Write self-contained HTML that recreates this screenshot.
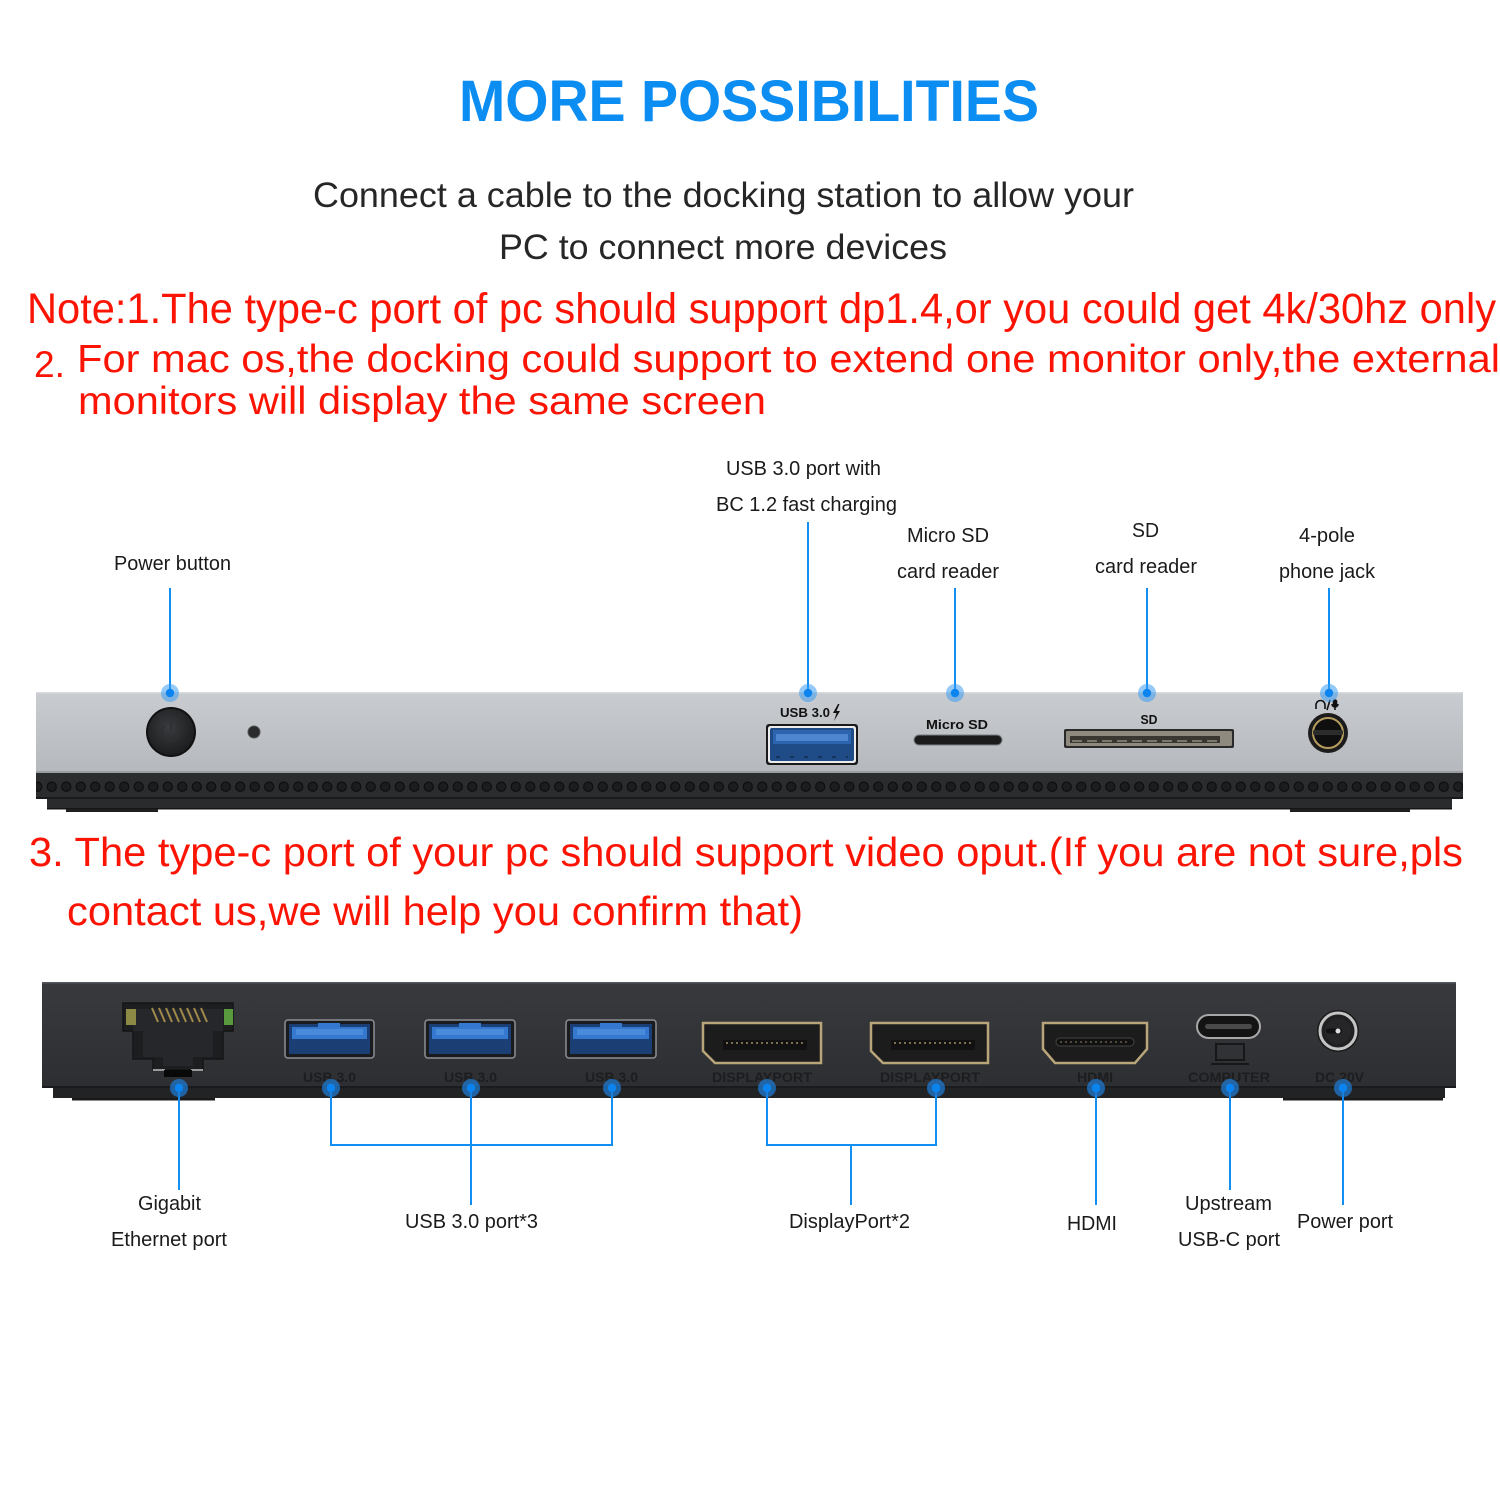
<!DOCTYPE html>
<html><head><meta charset="utf-8"><style>
html,body{margin:0;padding:0;background:#fff;}
svg{display:block;}
text{font-family:"Liberation Sans",Arial,sans-serif;}
</style></head><body>
<svg width="1500" height="1500" viewBox="0 0 1500 1500" xmlns="http://www.w3.org/2000/svg">
<defs>
<linearGradient id="gfront" x1="0" y1="0" x2="0" y2="1">
<stop offset="0" stop-color="#c9ccd0"/><stop offset="0.5" stop-color="#bfc2c6"/><stop offset="1" stop-color="#b5b8bc"/>
</linearGradient>
<linearGradient id="gback" x1="0" y1="0" x2="0" y2="1">
<stop offset="0" stop-color="#383a3e"/><stop offset="1" stop-color="#2c2e31"/>
</linearGradient>
<radialGradient id="gbtn" cx="0.45" cy="0.4" r="0.6">
<stop offset="0" stop-color="#3a3b3e"/><stop offset="1" stop-color="#1c1d1f"/>
</radialGradient>
<pattern id="holes" x="44.5" y="779" width="14.5" height="16" patternUnits="userSpaceOnUse">
<circle cx="7.25" cy="7.7" r="4.6" fill="#1c1d1f" stroke="#0e0e0f" stroke-width="1.3"/>
</pattern>
</defs>

<!-- Header text -->
<text x="459" y="121" font-size="58" font-weight="bold" fill="#0b8df2" textLength="580" lengthAdjust="spacingAndGlyphs">MORE POSSIBILITIES</text>
<text x="313" y="207" font-size="35" fill="#262626" textLength="821" lengthAdjust="spacingAndGlyphs">Connect a cable to the docking station to allow your</text>
<text x="499" y="259" font-size="35" fill="#262626" textLength="448" lengthAdjust="spacingAndGlyphs">PC to connect more devices</text>

<text x="27" y="323" font-size="43" fill="#fb1404" textLength="1469" lengthAdjust="spacingAndGlyphs">Note:1.The type-c port of pc should support dp1.4,or you could get 4k/30hz only</text>
<text x="34" y="377" font-size="37" fill="#fb1404" textLength="31" lengthAdjust="spacingAndGlyphs">2.</text>
<text x="77" y="372" font-size="39" fill="#fb1404" textLength="1423" lengthAdjust="spacingAndGlyphs">For mac os,the docking could support to extend one monitor only,the external</text>
<text x="78" y="414" font-size="39" fill="#fb1404" textLength="688" lengthAdjust="spacingAndGlyphs">monitors will display the same screen</text>

<!-- Top labels -->
<g font-size="20" fill="#1a1a1a" text-anchor="middle">
<text x="172.5" y="570" textLength="117" lengthAdjust="spacingAndGlyphs">Power button</text>
<text x="803.5" y="475" textLength="155" lengthAdjust="spacingAndGlyphs">USB 3.0 port with</text>
<text x="806.5" y="511" textLength="181" lengthAdjust="spacingAndGlyphs">BC 1.2 fast charging</text>
<text x="948" y="542" textLength="82" lengthAdjust="spacingAndGlyphs">Micro SD</text>
<text x="948" y="578" textLength="102" lengthAdjust="spacingAndGlyphs">card reader</text>
<text x="1145.5" y="537" textLength="27" lengthAdjust="spacingAndGlyphs">SD</text>
<text x="1146" y="573" textLength="102" lengthAdjust="spacingAndGlyphs">card reader</text>
<text x="1327" y="542" textLength="56" lengthAdjust="spacingAndGlyphs">4-pole</text>
<text x="1327" y="578" textLength="96" lengthAdjust="spacingAndGlyphs">phone jack</text>
</g>

<!-- Top connectors -->
<g stroke="#138ef2" stroke-width="2">
<line x1="170" y1="588" x2="170" y2="693"/>
<line x1="808" y1="522" x2="808" y2="693"/>
<line x1="955" y1="588" x2="955" y2="693"/>
<line x1="1147" y1="588" x2="1147" y2="693"/>
<line x1="1329" y1="588" x2="1329" y2="693"/>
</g>

<!-- Front device -->
<rect x="36" y="692" width="1427" height="81" fill="url(#gfront)"/>
<rect x="36" y="692" width="1427" height="1.5" fill="#d8dadd"/>
<rect x="36" y="771" width="1427" height="2" fill="#9a9da1"/>
<rect x="36" y="773" width="1427" height="26" fill="#2b2c2e"/>
<rect x="36" y="779" width="1427" height="16" fill="url(#holes)"/>
<rect x="36" y="797" width="1427" height="2" fill="#1a1a1b"/>
<rect x="47" y="799" width="1405" height="10" fill="#2a2b2d"/>
<rect x="47" y="808" width="1405" height="1.5" fill="#151516"/>
<rect x="66" y="809" width="92" height="3" fill="#1e1f20"/>
<rect x="1290" y="809" width="120" height="3" fill="#1e1f20"/>

<!-- power button -->
<circle cx="171" cy="732" r="25" fill="#111"/>
<circle cx="171" cy="732" r="23" fill="url(#gbtn)"/>
<path d="M164.5,726 A9,9 0 1 0 177.5,726" fill="none" stroke="#2e2f31" stroke-width="1.8"/>
<line x1="171" y1="721" x2="171" y2="731" stroke="#2e2f31" stroke-width="1.8"/>
<!-- LED -->
<circle cx="254" cy="732" r="6" fill="#2a2b2d" stroke="#555" stroke-width="1"/>

<!-- USB front -->
<text x="780" y="717" font-size="13" font-weight="bold" fill="#111" textLength="50" lengthAdjust="spacingAndGlyphs">USB 3.0</text>
<path d="M838,704 L833,713 L836.5,713 L834,721 L840,711 L836.5,711 L839.5,704 Z" fill="#111"/>
<rect x="766" y="724" width="92" height="41" rx="3" fill="#1a1a1a"/>
<rect x="768" y="726" width="88" height="37" rx="2.5" fill="#ececec"/>
<rect x="770" y="728" width="84" height="33" rx="2" fill="#1f4b86"/>
<rect x="773" y="730" width="78" height="14" fill="#2d64b0"/>
<rect x="776" y="734" width="72" height="7" fill="#4f86d0"/>
<line x1="776" y1="757" x2="848" y2="757" stroke="#16335c" stroke-width="2" stroke-dasharray="4 10"/>

<!-- Micro SD -->
<text x="957" y="729" font-size="13" font-weight="bold" fill="#111" text-anchor="middle" textLength="62" lengthAdjust="spacingAndGlyphs">Micro SD</text>
<rect x="914" y="735" width="88" height="10" rx="5" fill="#1b1b1c" stroke="#7a7c80" stroke-width="1"/>

<!-- SD -->
<text x="1149" y="724" font-size="13" font-weight="bold" fill="#111" text-anchor="middle" textLength="17" lengthAdjust="spacingAndGlyphs">SD</text>
<rect x="1064" y="729" width="170" height="19" rx="2" fill="#2a2a2a"/>
<rect x="1066" y="731" width="166" height="15" rx="1.5" fill="#8e8a7e"/>
<rect x="1070" y="736" width="150" height="7" fill="#3a3732"/>
<line x1="1072" y1="741" x2="1218" y2="741" stroke="#7b776b" stroke-width="2" stroke-dasharray="10 5"/>

<!-- audio jack -->
<g fill="none" stroke="#111" stroke-width="1.6">
<path d="M1316,709 V705 A4.5,4.5 0 0 1 1325,705 V709"/>
<line x1="1327" y1="710" x2="1330" y2="700"/>
<rect x="1333.5" y="700" width="3" height="6" rx="1.5" fill="#111"/>
<path d="M1332,704 A3,3 0 0 0 1338,704"/>
<line x1="1335" y1="707" x2="1335" y2="710"/>
</g>
<circle cx="1328" cy="733" r="20" fill="#1c1c1d"/>
<circle cx="1328" cy="733" r="15" fill="#0f0f10" stroke="#b59d5e" stroke-width="2"/>
<rect x="1313" y="730" width="30" height="5" rx="2" fill="#2c2c2c"/>

<!-- blue dots front -->
<g>
<circle cx="170" cy="693" r="9" fill="#3d9ff2" opacity="0.55"/><circle cx="170" cy="693" r="4.2" fill="#0b84f0"/>
<circle cx="808" cy="693" r="9" fill="#3d9ff2" opacity="0.55"/><circle cx="808" cy="693" r="4.2" fill="#0b84f0"/>
<circle cx="955" cy="693" r="9" fill="#3d9ff2" opacity="0.55"/><circle cx="955" cy="693" r="4.2" fill="#0b84f0"/>
<circle cx="1147" cy="693" r="9" fill="#3d9ff2" opacity="0.55"/><circle cx="1147" cy="693" r="4.2" fill="#0b84f0"/>
<circle cx="1329" cy="693" r="9" fill="#3d9ff2" opacity="0.55"/><circle cx="1329" cy="693" r="4.2" fill="#0b84f0"/>
</g>

<!-- Item 3 text -->
<text x="29" y="866" font-size="41" fill="#fb1404" textLength="1434" lengthAdjust="spacingAndGlyphs">3. The type-c port of your pc should support video oput.(If you are not sure,pls</text>
<text x="67" y="925" font-size="41" fill="#fb1404" textLength="736" lengthAdjust="spacingAndGlyphs">contact us,we will help you confirm that)</text>

<!-- Back device -->
<rect x="42" y="982" width="1414" height="106" fill="url(#gback)"/>
<rect x="42" y="982" width="1414" height="1.5" fill="#55585c"/>
<rect x="42" y="1086" width="1414" height="2" fill="#1a1b1d"/>
<rect x="53" y="1088" width="1392" height="10" fill="#222325"/>
<rect x="72" y="1098" width="143" height="2.5" fill="#1a1a1b"/>
<rect x="1283" y="1098" width="160" height="2.5" fill="#1a1a1b"/>

<!-- Ethernet -->
<path d="M123,1003 H233 V1031 H223 V1059 H203 V1070 H153 V1059 H133 V1031 H123 Z" fill="#1d1e20" stroke="#151516" stroke-width="1.5"/>
<path d="M133,1009 H223 V1031 H213 V1057 H193 V1066 H163 V1057 H143 V1031 H133 Z" fill="#26272a"/>
<rect x="126" y="1009" width="10" height="16" fill="#8c8a45"/>
<rect x="224" y="1009" width="9" height="16" fill="#5a9a3e"/>
<g stroke="#a08a4a" stroke-width="2">
<line x1="152" y1="1008" x2="158" y2="1022"/><line x1="159" y1="1008" x2="165" y2="1022"/>
<line x1="166" y1="1008" x2="172" y2="1022"/><line x1="173" y1="1008" x2="179" y2="1022"/>
<line x1="180" y1="1008" x2="186" y2="1022"/><line x1="187" y1="1008" x2="193" y2="1022"/>
<line x1="194" y1="1008" x2="200" y2="1022"/><line x1="201" y1="1008" x2="207" y2="1022"/>
</g>
<rect x="153" y="1069" width="12" height="2" fill="#9a9a9a"/>
<rect x="191" y="1069" width="12" height="2" fill="#9a9a9a"/>
<rect x="164" y="1070" width="28" height="7" fill="#080808"/>

<!-- USB back ports -->
<g>
<rect x="285" y="1020" width="89" height="38" rx="3" fill="#1a1b1d" stroke="#8c8f94" stroke-width="1.5"/>
<rect x="289" y="1024" width="81" height="30" fill="#1b3f74"/>
<rect x="292" y="1027" width="75" height="12" fill="#3479cf"/>
<rect x="318" y="1023" width="22" height="5" fill="#3479cf"/>
<rect x="296" y="1029" width="67" height="6" fill="#4a8ada"/>

<rect x="425" y="1020" width="90" height="38" rx="3" fill="#1a1b1d" stroke="#8c8f94" stroke-width="1.5"/>
<rect x="429" y="1024" width="82" height="30" fill="#1b3f74"/>
<rect x="432" y="1027" width="76" height="12" fill="#3479cf"/>
<rect x="459" y="1023" width="22" height="5" fill="#3479cf"/>
<rect x="436" y="1029" width="68" height="6" fill="#4a8ada"/>

<rect x="566" y="1020" width="90" height="38" rx="3" fill="#1a1b1d" stroke="#8c8f94" stroke-width="1.5"/>
<rect x="570" y="1024" width="82" height="30" fill="#1b3f74"/>
<rect x="573" y="1027" width="76" height="12" fill="#3479cf"/>
<rect x="600" y="1023" width="22" height="5" fill="#3479cf"/>
<rect x="577" y="1029" width="68" height="6" fill="#4a8ada"/>
</g>

<!-- DP ports -->
<path d="M703,1023 H821 V1063 H715 L703,1051 Z" fill="#1c1c1d" stroke="#b8a57a" stroke-width="2.5"/>
<rect x="723" y="1040" width="84" height="10" fill="#111"/>
<line x1="726" y1="1043" x2="804" y2="1043" stroke="#a08e62" stroke-width="1.5" stroke-dasharray="2 3"/>
<path d="M871,1023 H988 V1063 H883 L871,1051 Z" fill="#1c1c1d" stroke="#b8a57a" stroke-width="2.5"/>
<rect x="891" y="1040" width="84" height="10" fill="#111"/>
<line x1="894" y1="1043" x2="972" y2="1043" stroke="#a08e62" stroke-width="1.5" stroke-dasharray="2 3"/>

<!-- HDMI -->
<path d="M1043,1023 H1147 V1049 L1135,1063 H1055 L1043,1049 Z" fill="#1c1c1d" stroke="#b8a57a" stroke-width="2.5"/>
<rect x="1056" y="1038" width="78" height="8" rx="4" fill="#111" stroke="#444" stroke-width="1"/>
<line x1="1060" y1="1042" x2="1130" y2="1042" stroke="#7a6e50" stroke-width="1.2" stroke-dasharray="2 3"/>

<!-- USB-C -->
<rect x="1197" y="1015" width="63" height="23" rx="11.5" fill="#141415" stroke="#a8a8a8" stroke-width="2"/>
<rect x="1205" y="1024" width="47" height="5" rx="2.5" fill="#4a4a4a"/>
<rect x="1216" y="1044" width="28" height="16" fill="none" stroke="#171718" stroke-width="2"/>
<line x1="1211" y1="1064" x2="1249" y2="1064" stroke="#171718" stroke-width="2"/>

<!-- DC jack -->
<circle cx="1338" cy="1031" r="21" fill="#1a1a1b"/>
<circle cx="1338" cy="1031" r="18" fill="#202022" stroke="#c4c4c4" stroke-width="3"/>
<circle cx="1338" cy="1031" r="13" fill="#262628"/>
<rect x="1326" y="1028.5" width="16" height="5" rx="2.5" fill="#111"/>
<circle cx="1338" cy="1031" r="2.5" fill="#ddd"/>

<!-- back labels -->
<g font-size="14" font-weight="bold" fill="#1c1d1f" text-anchor="middle">
<text x="329.5" y="1082" textLength="53" lengthAdjust="spacingAndGlyphs">USB 3.0</text>
<text x="470.5" y="1082" textLength="53" lengthAdjust="spacingAndGlyphs">USB 3.0</text>
<text x="611.5" y="1082" textLength="53" lengthAdjust="spacingAndGlyphs">USB 3.0</text>
<text x="762" y="1082" textLength="100" lengthAdjust="spacingAndGlyphs">DISPLAYPORT</text>
<text x="930" y="1082" textLength="100" lengthAdjust="spacingAndGlyphs">DISPLAYPORT</text>
<text x="1095" y="1082" textLength="36" lengthAdjust="spacingAndGlyphs">HDMI</text>
<text x="1229" y="1082" textLength="82" lengthAdjust="spacingAndGlyphs">COMPUTER</text>
<text x="1339.5" y="1082" textLength="49" lengthAdjust="spacingAndGlyphs">DC 20V</text>
</g>

<!-- bottom connectors -->
<g stroke="#138ef2" stroke-width="2" fill="none">
<line x1="179" y1="1088" x2="179" y2="1190"/>
<polyline points="331,1088 331,1145 612,1145 612,1088"/>
<line x1="471" y1="1088" x2="471" y2="1205"/>
<polyline points="767,1088 767,1145 936,1145 936,1088"/>
<line x1="851" y1="1145" x2="851" y2="1205"/>
<line x1="1096" y1="1088" x2="1096" y2="1205"/>
<line x1="1230" y1="1088" x2="1230" y2="1190"/>
<line x1="1343" y1="1088" x2="1343" y2="1205"/>
</g>
<g>
<circle cx="179" cy="1088" r="9" fill="#1f7ad0" opacity="0.75"/><circle cx="179" cy="1088" r="4.2" fill="#0b84f0"/>
<circle cx="331" cy="1088" r="9" fill="#1f7ad0" opacity="0.75"/><circle cx="331" cy="1088" r="4.2" fill="#0b84f0"/>
<circle cx="471" cy="1088" r="9" fill="#1f7ad0" opacity="0.75"/><circle cx="471" cy="1088" r="4.2" fill="#0b84f0"/>
<circle cx="612" cy="1088" r="9" fill="#1f7ad0" opacity="0.75"/><circle cx="612" cy="1088" r="4.2" fill="#0b84f0"/>
<circle cx="767" cy="1088" r="9" fill="#1f7ad0" opacity="0.75"/><circle cx="767" cy="1088" r="4.2" fill="#0b84f0"/>
<circle cx="936" cy="1088" r="9" fill="#1f7ad0" opacity="0.75"/><circle cx="936" cy="1088" r="4.2" fill="#0b84f0"/>
<circle cx="1096" cy="1088" r="9" fill="#1f7ad0" opacity="0.75"/><circle cx="1096" cy="1088" r="4.2" fill="#0b84f0"/>
<circle cx="1230" cy="1088" r="9" fill="#1f7ad0" opacity="0.75"/><circle cx="1230" cy="1088" r="4.2" fill="#0b84f0"/>
<circle cx="1343" cy="1088" r="9" fill="#1f7ad0" opacity="0.75"/><circle cx="1343" cy="1088" r="4.2" fill="#0b84f0"/>
</g>

<!-- bottom labels -->
<g font-size="20" fill="#1a1a1a" text-anchor="middle">
<text x="169.5" y="1210" textLength="63" lengthAdjust="spacingAndGlyphs">Gigabit</text>
<text x="169" y="1246" textLength="116" lengthAdjust="spacingAndGlyphs">Ethernet port</text>
<text x="471.5" y="1228" textLength="133" lengthAdjust="spacingAndGlyphs">USB 3.0 port*3</text>
<text x="849.5" y="1228" textLength="121" lengthAdjust="spacingAndGlyphs">DisplayPort*2</text>
<text x="1092" y="1230" textLength="50" lengthAdjust="spacingAndGlyphs">HDMI</text>
<text x="1228.5" y="1210" textLength="87" lengthAdjust="spacingAndGlyphs">Upstream</text>
<text x="1229" y="1246" textLength="102" lengthAdjust="spacingAndGlyphs">USB-C port</text>
<text x="1345" y="1228" textLength="96" lengthAdjust="spacingAndGlyphs">Power port</text>
</g>
</svg>
</body></html>
